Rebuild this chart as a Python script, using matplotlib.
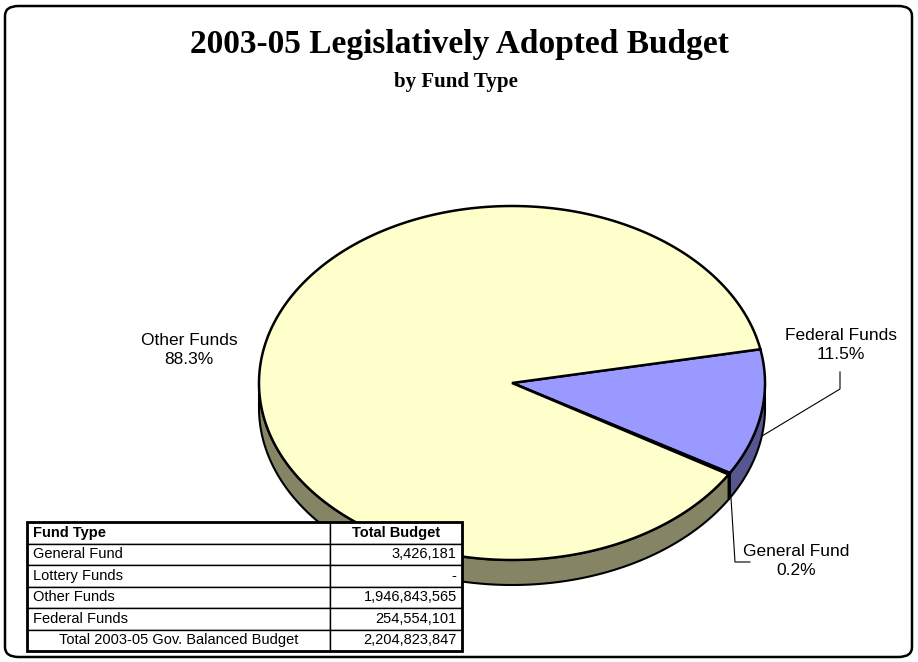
import matplotlib.pyplot as plt
import numpy as np
from matplotlib.patches import Polygon, FancyBboxPatch, Rectangle

# table data
fund_types = ["General Fund", "Lottery Funds", "Other Funds", "Federal Funds"]
budgets = [3426181, 0, 1946843565, 254554101]
total_label = "Total 2003-05 Gov. Balanced Budget"

# pie order (clockwise from start angle) and colours
pie_order = ["Federal Funds", "General Fund", "Lottery Funds", "Other Funds"]
top_colors = {"Federal Funds": "#9999ff", "General Fund": "#993366",
              "Lottery Funds": "#ffffcc", "Other Funds": "#ffffcc"}
side_colors = {"Federal Funds": "#565690", "General Fund": "#4d1a33",
               "Lottery Funds": "#858566", "Other Funds": "#858566"}

W, H = 918, 662
fig = plt.figure(figsize=(W / 100, H / 100), dpi=100)
ax = fig.add_axes([0, 0, 1, 1])
ax.set_xlim(0, W)
ax.set_ylim(H, 0)
ax.axis('off')

# rounded frame
fig.patches.append(FancyBboxPatch((5 / W, 5 / H), 907 / W, 651 / H,
                                  boxstyle="round,pad=0,rounding_size=0.015",
                                  transform=fig.transFigure, fill=False,
                                  edgecolor='black', linewidth=1.8))

fig.text(459 / W, 1 - 45 / H, "2003-05 Legislatively Adopted Budget", ha='center', va='center',
         family='Liberation Serif', weight='bold', fontsize=24)
fig.text(456 / W, 1 - 82 / H, "by Fund Type", ha='center', va='center',
         family='Liberation Serif', weight='bold', fontsize=15)

# 3D pie
cx, cy, a, b, depth = 512, 383, 253, 177, 25
start = 11.0
total = sum(budgets)
vals = dict(zip(fund_types, budgets))


def pt(t, dz=0):
    r = np.radians(t)
    return cx + a * np.cos(r), cy - b * np.sin(r) + dz


spans = []
ang = start
for name in pie_order:
    sweep = 360.0 * vals[name] / total
    spans.append((name, ang - sweep, ang))
    ang -= sweep

# side faces (front half only: angles between -180 and 0)
for name, t1, t2 in spans:
    if t2 - t1 <= 0:
        continue
    for off in (0, -360):
        lo, hi = max(t1 + off, -180), min(t2 + off, 0)
        if hi <= lo:
            continue
        ts = np.linspace(lo, hi, 100)
        top = [pt(t) for t in ts]
        bot = [pt(t, depth) for t in ts[::-1]]
        ax.add_patch(Polygon(top + bot, closed=True, facecolor=side_colors[name],
                             edgecolor='black', linewidth=1.5))

# top faces
for name, t1, t2 in spans:
    if t2 - t1 <= 0:
        continue
    ts = np.linspace(t1, t2, 300)
    verts = [(cx, cy)] + [pt(t) for t in ts]
    ax.add_patch(Polygon(verts, closed=True, facecolor=top_colors[name],
                         edgecolor='black', linewidth=1.8, joinstyle='miter'))

# labels with leader lines
lab_font = dict(family='Liberation Sans', fontsize=12.5, ha='center', va='center',
                linespacing=1.35)
pct = {n: 100.0 * v / total for n, v in vals.items()}
ax.text(189, 350, "Other Funds\n%.1f%%" % pct["Other Funds"], **lab_font)
ax.text(841, 345, "Federal Funds\n%.1f%%" % pct["Federal Funds"], **lab_font)
ax.text(796, 561, "General Fund\n%.1f%%" % pct["General Fund"], **lab_font)
ax.plot([762, 840, 840], [436, 389, 372], color='black', linewidth=0.8)
ax.plot([731, 735, 750], [498, 562, 562], color='black', linewidth=0.8)

# data table
tab_ax = fig.add_axes([27 / W, 1 - 651 / H, 435 / W, 129 / H])
tab_ax.set_xlim(0, 1)
tab_ax.set_ylim(0, 1)
tab_ax.axis('off')
cells = [["Fund Type", "Total Budget"]]
for n, v in zip(fund_types, budgets):
    cells.append([n, "{:,}".format(v) if v else "-"])
cells.append([total_label, "{:,}".format(total)])
tbl = tab_ax.table(cellText=cells, bbox=[0, 0, 1, 1], colWidths=[303, 132])
tbl.auto_set_font_size(False)
for (r, c), cell in tbl.get_celld().items():
    cell.set_facecolor('white')
    cell.set_linewidth(1.0)
    txt = cell.get_text()
    txt.set_fontfamily('Liberation Sans')
    txt.set_fontsize(10.5)
    if c == 0:
        cell._loc = 'left'
        cell.PAD = 0.02
    else:
        cell._loc = 'right'
        cell.PAD = 0.04
    if r == 0:
        txt.set_fontweight('bold')
        if c == 1:
            cell._loc = 'center'
    if r == len(cells) - 1 and c == 0:
        cell._loc = 'center'
    txt.set_ha(cell._loc)
tab_ax.add_patch(Rectangle((0, 0), 1, 1, fill=False, edgecolor='black',
                           linewidth=2, zorder=5, clip_on=False))

fig.savefig("out.png", dpi=100)
